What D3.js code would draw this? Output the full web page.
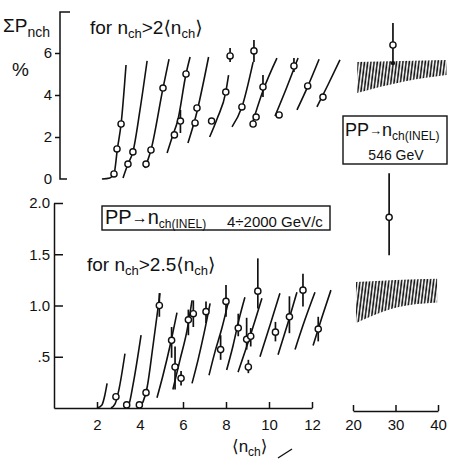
<!DOCTYPE html>
<html>
<head>
<meta charset="utf-8">
<script src="https://cdn.jsdelivr.net/npm/d3@7"></script>
<style>
body{margin:0;background:#fff}
svg{display:block}
text{font-family:"Liberation Sans","DejaVu Sans",sans-serif;fill:#111}
</style>
</head>
<body>
<svg id="chart" width="449" height="460"></svg>
<script>
// tick values / labels
var xTicksLow = [2,4,6,8,10,12]
var xTicksHigh = [20,30,40]
var yTicksTop = [0,2,4,6]
var yTicksBot = [0.5,1.0,1.5,2.0]
var yTickLabelsBot = [".5","1.0","1.5","2.0"]

// upper panel (n_ch > 2<n_ch>), x = <n_ch>, y = sum P in %
var topCurves = [
  [[2.23,0],[2.6,0.05],[2.79,0.24],[2.95,1.45],[3.12,2.62],[3.35,5.43]],
  [[3.21,0.05],[3.44,0.71],[3.67,1.29],[4.0,3.29],[4.33,5.62]],
  [[4.23,0.52],[4.51,1.38],[5.07,4.33],[5.35,5.71]],
  [[5.26,1.24],[5.53,2.1],[5.75,2.76],[6.14,5.0],[6.33,5.81]],
  [[6.23,1.71],[6.6,3.0],[7.19,5.81]],
  [[7.24,2.0],[7.6,2.9],[7.99,4.14],[8.12,4.95]],
  [[8.28,2.48],[8.74,3.43],[9.26,5.57]],
  [[9.2,2.57],[9.72,4.2],[10.37,5.76]],
  [[10.28,3.0],[10.8,4.3],[11.35,5.76]],
  [[11.3,3.29],[11.8,4.4],[12.33,5.7]],
  [[12.23,3.43],[12.75,4.5],[13.3,5.67]]
]
// [x, y, low, high]
var topPoints = [
  [2.79,0.24],[2.93,1.43],[3.12,2.62],
  [3.44,0.71],[3.67,1.29],
  [4.28,0.71],[4.51,1.38],[5.07,4.33],
  [5.6,2.1],[5.88,2.76,2.19,3.29],[6.14,5.0],
  [6.56,2.67],[6.65,3.38],
  [7.33,2.76],[7.99,4.14],[8.19,5.86,5.57,6.24],
  [8.74,3.43],[9.30,6.1,5.57,6.62],
  [9.26,2.62],[9.40,2.95],[9.72,4.38,3.9,4.95],
  [10.47,3.05],[11.16,5.38,5.1,5.76],
  [11.8,4.43],
  [12.51,3.9]
]
var topBandX = [21,31.5,42]
var topBandLo = [4.1,4.62,4.95]
var topBandHi = [5.57,5.62,5.67]
var top546 = [29.4,6.38,5.52,7.43]

// lower panel (n_ch > 2.5<n_ch>)
var botCurves = [
  [[2.0,0],[2.23,0.03],[2.37,0.13],[2.47,0.24]],
  [[2.65,0],[2.84,0.04],[3.02,0.18],[3.3,0.53]],
  [[3.3,0],[3.49,0.04],[3.67,0.22],[4.05,0.71]],
  [[3.91,0],[4.14,0.06],[4.33,0.2],[4.6,0.6],[4.93,1.12]],
  [[4.79,0.1],[5.07,0.32],[5.4,0.61],[5.72,0.93]],
  [[5.53,0.18],[5.86,0.47],[6.19,0.76],[6.42,1.05]],
  [[6.42,0.24],[6.7,0.47],[6.98,0.73],[7.26,1.02]],
  [[7.21,0.32],[7.49,0.55],[7.81,0.78],[8.09,1.02]],
  [[8.03,0.37],[8.33,0.61],[8.6,0.86],[8.88,1.08]],
  [[8.56,0.35],[9.12,0.7],[9.67,1.07]],
  [[9.58,0.5],[10.05,0.81],[10.51,1.12]],
  [[10.42,0.52],[10.88,0.83],[11.3,1.13]],
  [[11.21,0.57],[11.67,0.86],[12.14,1.13]],
  [[12.05,0.61],[12.47,0.89],[12.88,1.15]]
]
var botPoints = [
  [2.88,0.11],[3.38,0.03],[3.97,0.03],[4.28,0.15],[4.9,1.0,0.89,1.12],
  [5.47,0.66,0.49,0.79],[5.63,0.4,0.18,0.6],[5.91,0.29,0.22,0.36],
  [6.25,0.86,0.71,0.96],[6.48,0.92,0.79,1.05],
  [7.07,0.94,0.83,1.04],
  [7.75,0.57,0.47,0.71],[8.0,1.04,0.89,1.2],
  [8.57,0.78,0.7,0.92],
  [8.96,0.67,0.57,0.88],[9.15,0.7,0.6,0.78],[9.04,0.4,0.34,0.47],[9.48,1.14,0.97,1.46],
  [10.3,0.74,0.65,0.84],
  [10.95,0.89,0.73,1.09],
  [11.58,1.15,0.99,1.31],
  [12.29,0.77,0.65,0.89]
]
var botBandX = [20.7,30.2,39.8]
var botBandLo = [0.83,0.98,1.03]
var botBandHi = [1.23,1.25,1.26]
var bot546 = [28.5,1.86,1.49,2.29]

var ink = "#111"
var svg = d3.select("#chart")

var x = d3.scaleLinear().domain([0,12]).range([54,312])
var xR = d3.scaleLinear().domain([20,40]).range([353,438])
var yTop = d3.scaleLinear().domain([0,6]).range([179,53])
var yBot = d3.scaleLinear().domain([0,2]).range([408,203])

// hatch pattern for the 546 GeV bands
var pat = svg.append("defs").append("pattern").attr("id","hatch")
  .attr("patternUnits","userSpaceOnUse").attr("width",3.2).attr("height",20)
  .attr("patternTransform","skewX(-7)")
pat.append("line").attr("x1",1).attr("x2",1).attr("y1",0).attr("y2",20)
  .attr("stroke",ink).attr("stroke-width",1.6)

function styleAxis(g, size){
  g.attr("font-family",null).attr("font-size",null)
  g.selectAll("text").style("font-size",size+"px").attr("fill",ink)
  g.selectAll("line,path").attr("stroke",ink).attr("stroke-width",1.5)
}

// ---- upper panel axis (bracket) ----
var gTopY = svg.append("g").attr("transform","translate(60,0)")
  .call(d3.axisLeft(yTop).tickValues(yTicksTop).tickSize(5).tickPadding(3).tickFormat(d3.format("d")))
gTopY.select(".domain").remove()
gTopY.selectAll(".tick").filter(function(d){return d==0}).select("line").remove()
styleAxis(gTopY,15)
svg.append("path")
  .attr("d","M70,"+yTop(7.95)+"H60V"+yTop(0)+"H67")
  .attr("fill","none").attr("stroke",ink).attr("stroke-width",1.5)

// ---- lower panel axes ----
var gy = svg.append("g").attr("transform","translate("+x(0)+",0)")
  .call(d3.axisLeft(yBot).tickValues(yTicksBot).tickSize(-9).tickSizeOuter(0).tickPadding(4)
    .tickFormat(function(d,i){return yTickLabelsBot[i]}))
styleAxis(gy,15)

var gx = svg.append("g").attr("transform","translate(0,"+yBot(0)+")")
  .call(d3.axisBottom(x).tickValues(xTicksLow).tickSize(-6).tickSizeOuter(0).tickPadding(11))
styleAxis(gx,15)

var gxR = svg.append("g").attr("transform","translate(0,411)")
  .call(d3.axisBottom(xR).tickValues(xTicksHigh).tickSize(-6).tickSizeOuter(0).tickPadding(8))
styleAxis(gxR,15)

// ---- curves ----
var lineTop = d3.line().x(function(d){return x(d[0])}).y(function(d){return yTop(d[1])}).curve(d3.curveMonotoneX)
var lineBot = d3.line().x(function(d){return x(d[0])}).y(function(d){return yBot(d[1])}).curve(d3.curveMonotoneX)

svg.append("g").selectAll("path").data(topCurves).enter().append("path")
  .attr("d",lineTop).attr("fill","none").attr("stroke",ink).attr("stroke-width",1.6)
svg.append("g").selectAll("path").data(botCurves).enter().append("path")
  .attr("d",lineBot).attr("fill","none").attr("stroke",ink).attr("stroke-width",1.6)

// ---- bands ----
function bandRows(xs,lo,hi){ return xs.map(function(v,i){return [v,lo[i],hi[i]]}) }
var areaTop = d3.area().x(function(d){return xR(d[0])}).y0(function(d){return yTop(d[1])}).y1(function(d){return yTop(d[2])}).curve(d3.curveMonotoneX)
var areaBot = d3.area().x(function(d){return xR(d[0])}).y0(function(d){return yBot(d[1])}).y1(function(d){return yBot(d[2])}).curve(d3.curveMonotoneX)
svg.append("path").datum(bandRows(topBandX,topBandLo,topBandHi)).attr("d",areaTop).attr("fill","url(#hatch)")
svg.append("path").datum(bandRows(botBandX,botBandLo,botBandHi)).attr("d",areaBot).attr("fill","url(#hatch)")

// ---- points with error bars ----
function drawPoints(data, xs, ys){
  var g = svg.append("g")
  var bars = data.filter(function(d){return d.length>2})
  g.selectAll("line").data(bars).enter().append("line")
    .attr("x1",function(d){return xs(d[0])}).attr("x2",function(d){return xs(d[0])})
    .attr("y1",function(d){return ys(d[2])}).attr("y2",function(d){return ys(d[3])})
    .attr("stroke",ink).attr("stroke-width",1.7)
  g.selectAll("circle").data(data).enter().append("circle")
    .attr("cx",function(d){return xs(d[0])}).attr("cy",function(d){return ys(d[1])})
    .attr("r",3.1).attr("fill","#fff").attr("stroke",ink).attr("stroke-width",1.4)
}
drawPoints(topPoints,x,yTop)
drawPoints(botPoints,x,yBot)
drawPoints([top546],xR,yTop)
drawPoints([bot546],xR,yBot)
svg.append("circle").attr("cx",xR(top546[0])).attr("cy",yTop(top546[2])).attr("r",2.2).attr("fill",ink)

// ---- texts ----
function addText(xp,yp,parts){
  var t = svg.append("text").attr("x",xp).attr("y",yp)
  parts.forEach(function(p){
    var s = t.append("tspan").text(p[0]).style("font-size",p[1]+"px")
    if (p[2]) s.attr("dy",p[2])
    if (p[3] != null) s.attr("x",p[3])
  })
  return t
}
// y label
addText(3,32,[["ΣP",19],["nch",14,5]])
addText(12,76,[["%",19]])
// panel captions
addText(90,34,[["for n",19],["ch",13,4],[">2⟨n",19,-4],["ch",13,4],["⟩",19,-4]])
addText(87,271,[["for n",19],["ch",13,4],[">2.5⟨n",19,-4],["ch",13,4],["⟩",19,-4]])
// x label
addText(232,452,[["⟨n",17],["ch",12,4],["⟩",17,-4]])
svg.append("line").attr("x1",278).attr("y1",458).attr("x2",292).attr("y2",449)
  .attr("stroke",ink).attr("stroke-width",1.4)

// legend boxes
svg.append("rect").attr("x",102).attr("y",206).attr("width",228).attr("height",24)
  .attr("fill","none").attr("stroke",ink).attr("stroke-width",1.4)
addText(105,224,[["PP",20],["→",16,-1],["n",20,1],["ch",12,4],["(INEL)",12],["4÷2000 GeV/c",15,-1,227]])

svg.append("rect").attr("x",343).attr("y",116).attr("width",104).attr("height",48)
  .attr("fill","#fff").attr("stroke",ink).attr("stroke-width",1.4)
addText(345,136,[["PP",18],["→",13,-1],["n",18,1],["ch",12,4],["(INEL)",12]])
addText(396,160,[["546 GeV",14]]).attr("text-anchor","middle")
</script>
</body>
</html>
